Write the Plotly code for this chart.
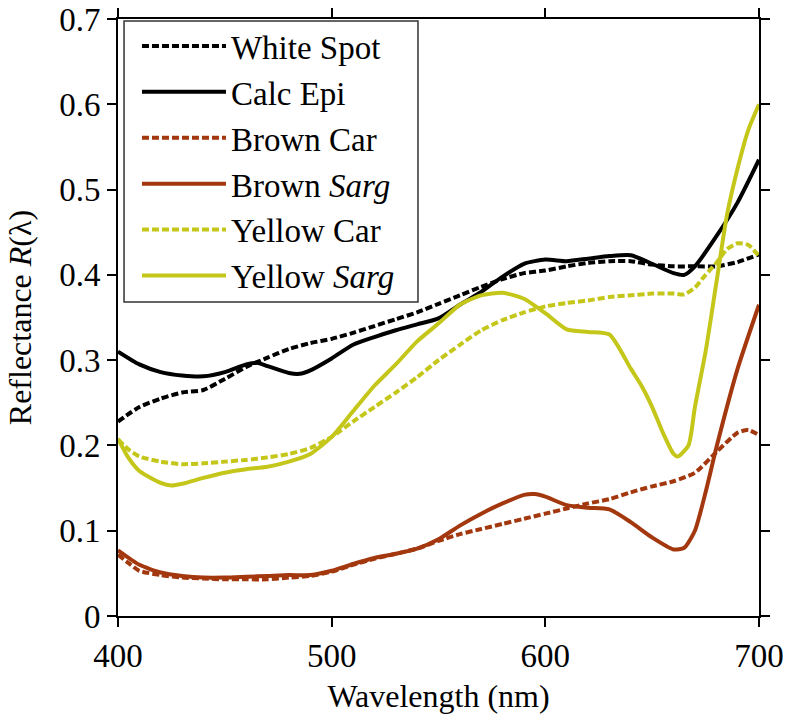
import plotly.graph_objects as go

# ---------------- data ----------------
wl_white = [400, 410, 420, 430, 440, 450, 460, 470, 480, 490, 500, 510, 520, 530, 540, 550,
            560, 570, 580, 590, 600, 610, 620, 630, 640, 650, 660, 670, 680, 690, 700]
white_spot = [0.228, 0.245, 0.255, 0.262, 0.265, 0.278, 0.292, 0.303, 0.313, 0.320, 0.325, 0.332,
              0.340, 0.348, 0.356, 0.366, 0.376, 0.386, 0.395, 0.402, 0.405, 0.410, 0.414, 0.416,
              0.416, 0.412, 0.410, 0.410, 0.410, 0.415, 0.424]

wl_calc = [400, 410, 420, 430, 440, 450, 460, 465, 470, 480, 485, 490, 500, 510, 520, 530, 540,
           550, 560, 570, 580, 590, 600, 610, 620, 630, 640, 650, 660, 665, 670, 680, 690, 700]
calc_epi = [0.310, 0.295, 0.286, 0.282, 0.281, 0.286, 0.295, 0.297, 0.293, 0.285, 0.284, 0.288,
            0.302, 0.318, 0.327, 0.335, 0.342, 0.349, 0.365, 0.380, 0.398, 0.413, 0.418, 0.416,
            0.419, 0.422, 0.423, 0.413, 0.402, 0.400, 0.410, 0.445, 0.485, 0.535]

wl_bcar = [400, 405, 410, 420, 430, 440, 450, 460, 470, 480, 490, 500, 510, 520, 530, 540, 550,
           560, 570, 580, 590, 600, 610, 620, 630, 640, 650, 660, 670, 680, 690, 695, 700]
brown_car = [0.072, 0.062, 0.053, 0.048, 0.045, 0.044, 0.043, 0.043, 0.043, 0.045, 0.047, 0.052,
             0.060, 0.067, 0.073, 0.079, 0.088, 0.096, 0.102, 0.108, 0.114, 0.120, 0.126, 0.132,
             0.137, 0.145, 0.152, 0.158, 0.168, 0.192, 0.215, 0.218, 0.212]

wl_bsarg = [400, 410, 420, 430, 440, 450, 460, 470, 480, 490, 500, 510, 520, 530, 540, 550, 560,
            570, 580, 590, 595, 600, 610, 620, 630, 640, 650, 660, 665, 670, 675, 680, 690, 700]
brown_sarg = [0.077, 0.060, 0.051, 0.047, 0.045, 0.045, 0.046, 0.047, 0.048, 0.048, 0.053, 0.061,
              0.068, 0.073, 0.079, 0.090, 0.106, 0.120, 0.132, 0.142, 0.143, 0.140, 0.130, 0.127,
              0.125, 0.110, 0.092, 0.078, 0.080, 0.100, 0.145, 0.197, 0.290, 0.365]

wl_ycar = [400, 405, 410, 420, 430, 440, 450, 460, 470, 480, 490, 500, 510, 520, 530, 540, 550,
           560, 570, 580, 590, 600, 610, 620, 630, 640, 650, 660, 665, 670, 675, 680, 685, 690,
           695, 700]
yellow_car = [0.207, 0.195, 0.187, 0.181, 0.178, 0.179, 0.181, 0.183, 0.186, 0.190, 0.197, 0.210,
              0.228, 0.245, 0.262, 0.280, 0.300, 0.318, 0.335, 0.347, 0.356, 0.363, 0.367, 0.370,
              0.374, 0.376, 0.378, 0.378, 0.377, 0.385, 0.400, 0.414, 0.430, 0.437, 0.435, 0.422]

wl_ysarg = [400, 405, 410, 420, 425, 430, 440, 450, 460, 470, 480, 490, 500, 510, 520, 530, 540,
            550, 560, 570, 580, 590, 600, 610, 620, 630, 640, 645, 650, 655, 660, 662, 667, 670,
            675, 680, 685, 690, 695, 700]
yellow_sarg = [0.208, 0.185, 0.170, 0.156, 0.153, 0.155, 0.162, 0.168, 0.172, 0.175, 0.181, 0.190,
               0.210, 0.240, 0.270, 0.295, 0.322, 0.343, 0.365, 0.376, 0.379, 0.372, 0.355, 0.336,
               0.333, 0.330, 0.290, 0.270, 0.245, 0.215, 0.190, 0.187, 0.200, 0.245, 0.310, 0.390,
               0.470, 0.525, 0.570, 0.600]

x_ticks = [400, 500, 600, 700]
y_ticks = [0, 0.1, 0.2, 0.3, 0.4, 0.5, 0.6, 0.7]
y_tick_labels = ["0", "0.1", "0.2", "0.3", "0.4", "0.5", "0.6", "0.7"]

BLACK = "#000000"
BROWN = "#A3380F"
YELLOW = "#C4C71A"
DASH = "7px,3px"

series = [
    ("White Spot", wl_white, white_spot, BLACK, DASH),
    ("Calc Epi", wl_calc, calc_epi, BLACK, "solid"),
    ("Brown Car", wl_bcar, brown_car, BROWN, DASH),
    ("Brown <i>Sarg</i>", wl_bsarg, brown_sarg, BROWN, "solid"),
    ("Yellow Car", wl_ycar, yellow_car, YELLOW, DASH),
    ("Yellow <i>Sarg</i>", wl_ysarg, yellow_sarg, YELLOW, "solid"),
]

fig = go.Figure()
for name, xs, ys, col, dash in series:
    fig.add_trace(go.Scatter(
        x=xs, y=ys, mode="lines", name=name,
        line=dict(color=col, width=4, dash=dash, shape="spline", smoothing=0.6),
    ))

FONT = "Liberation Serif, Times New Roman, serif"

fig.update_layout(
    width=788, height=722,
    paper_bgcolor="white", plot_bgcolor="white",
    margin=dict(l=118, r=29, t=19, b=106),
    font=dict(family=FONT, color="black", size=33),
    showlegend=True,
    legend=dict(
        x=0.0296, y=1.0017, xanchor="left", yanchor="top",
        bgcolor="rgba(0,0,0,0)", borderwidth=0,
        font=dict(family=FONT, size=33, color="black"),
        itemwidth=84, tracegroupgap=0,
    ),
    # frame around the legend
    shapes=[dict(type="rect", xref="paper", yref="paper",
                 x0=0.0094, x1=0.468, y0=0.526, y1=0.9966,
                 line=dict(color="#333333", width=1.5), fillcolor="white", layer="below")],
    xaxis=dict(
        range=[400, 700], tickvals=x_ticks, ticktext=[str(v) for v in x_ticks],
        showgrid=False, zeroline=False, automargin=False, ticklabeloverflow="allow",
        showline=True, linecolor="black", linewidth=2, mirror="ticks",
        ticks="outside", ticklen=9, tickwidth=2, tickcolor="black",
        tickfont=dict(family=FONT, size=33),
        title=dict(text="Wavelength (nm)", font=dict(family=FONT, size=32), standoff=12),
    ),
    yaxis=dict(
        range=[0, 0.7], tickvals=y_ticks, ticktext=y_tick_labels,
        showgrid=False, zeroline=False, automargin=False, ticklabeloverflow="allow",
        showline=True, linecolor="black", linewidth=2, mirror="ticks",
        ticks="outside", ticklen=9, tickwidth=2, tickcolor="black",
        tickfont=dict(family=FONT, size=33),
        title=dict(text="Reflectance <i>R</i>(λ)", font=dict(family=FONT, size=32), standoff=18),
    ),
)

fig.write_html("out.html", config={"displayModeBar": False},
               post_script="document.body.style.margin='0';document.body.style.overflow='hidden';")
